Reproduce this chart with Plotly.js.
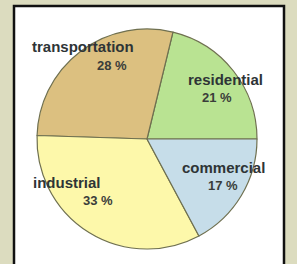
<!DOCTYPE html>
<html>
<head>
<meta charset="utf-8">
<script src="https://cdn.plot.ly/plotly-3.0.1.min.js"></script>
<style>html,body{margin:0;padding:0;background:#dcdcbf;}#chart{width:297px;height:264px;}</style>
</head>
<body>
<div id="chart"></div>
<script>
const categories = ["residential", "transportation", "industrial", "commercial"];
const shares = [21, 28, 33, 17];
const sliceColors = ["#b9e392", "#dcc080", "#fdf8aa", "#c6dde9"];

const W = 297, H = 264;
const cx = 147, cy = 139, r = 110;
function px(x) { return x / W; }
function py(y) { return 1 - y / H; }

// label anchor points (pixels) for each category, in the same order as categories
const labelPos = [[225, 80], [83, 47], [67, 182], [223, 167]];
const pctPos = [[217, 97], [112, 65], [98, 200], [223, 185]];

const annotations = [];
categories.forEach((c, i) => {
  annotations.push({
    xref: "paper", yref: "paper", x: px(labelPos[i][0]), y: py(labelPos[i][1]),
    text: "<b>" + c + "</b>", showarrow: false, xanchor: "center", yanchor: "middle",
    font: {family: "Liberation Sans, Arial, sans-serif", size: 15, color: "#2e3436"}
  });
  annotations.push({
    xref: "paper", yref: "paper", x: px(pctPos[i][0]), y: py(pctPos[i][1]),
    text: "<b>" + shares[i] + " %</b>", showarrow: false, xanchor: "center", yanchor: "middle",
    font: {family: "Liberation Sans, Arial, sans-serif", size: 13, color: "#3a3d3a"}
  });
});

const total = shares.reduce((a, b) => a + b, 0);

const data = [{
  type: "pie",
  labels: categories,
  values: shares,
  sort: false,
  direction: "counterclockwise",
  rotation: 90 - 360 * shares[0] / total,
  textinfo: "none",
  hoverinfo: "none",
  marker: {colors: sliceColors, line: {color: "#6f7050", width: 1.2}},
  domain: {x: [px(cx - r), px(cx + r)], y: [py(cy + r), py(cy - r)]},
  showlegend: false
}];

const layout = {
  width: W, height: H,
  margin: {l: 0, r: 0, t: 0, b: 0},
  paper_bgcolor: "#dcdcbf",
  plot_bgcolor: "rgba(0,0,0,0)",
  showlegend: false,
  shapes: [{
    type: "rect", xref: "paper", yref: "paper", layer: "below",
    x0: px(14), x1: px(284), y0: -0.1, y1: py(6),
    fillcolor: "#ffffff", line: {color: "#111111", width: 2.5}
  }],
  annotations: annotations
};

Plotly.newPlot("chart", data, layout, {staticPlot: true, displayModeBar: false});
</script>
</body>
</html>
